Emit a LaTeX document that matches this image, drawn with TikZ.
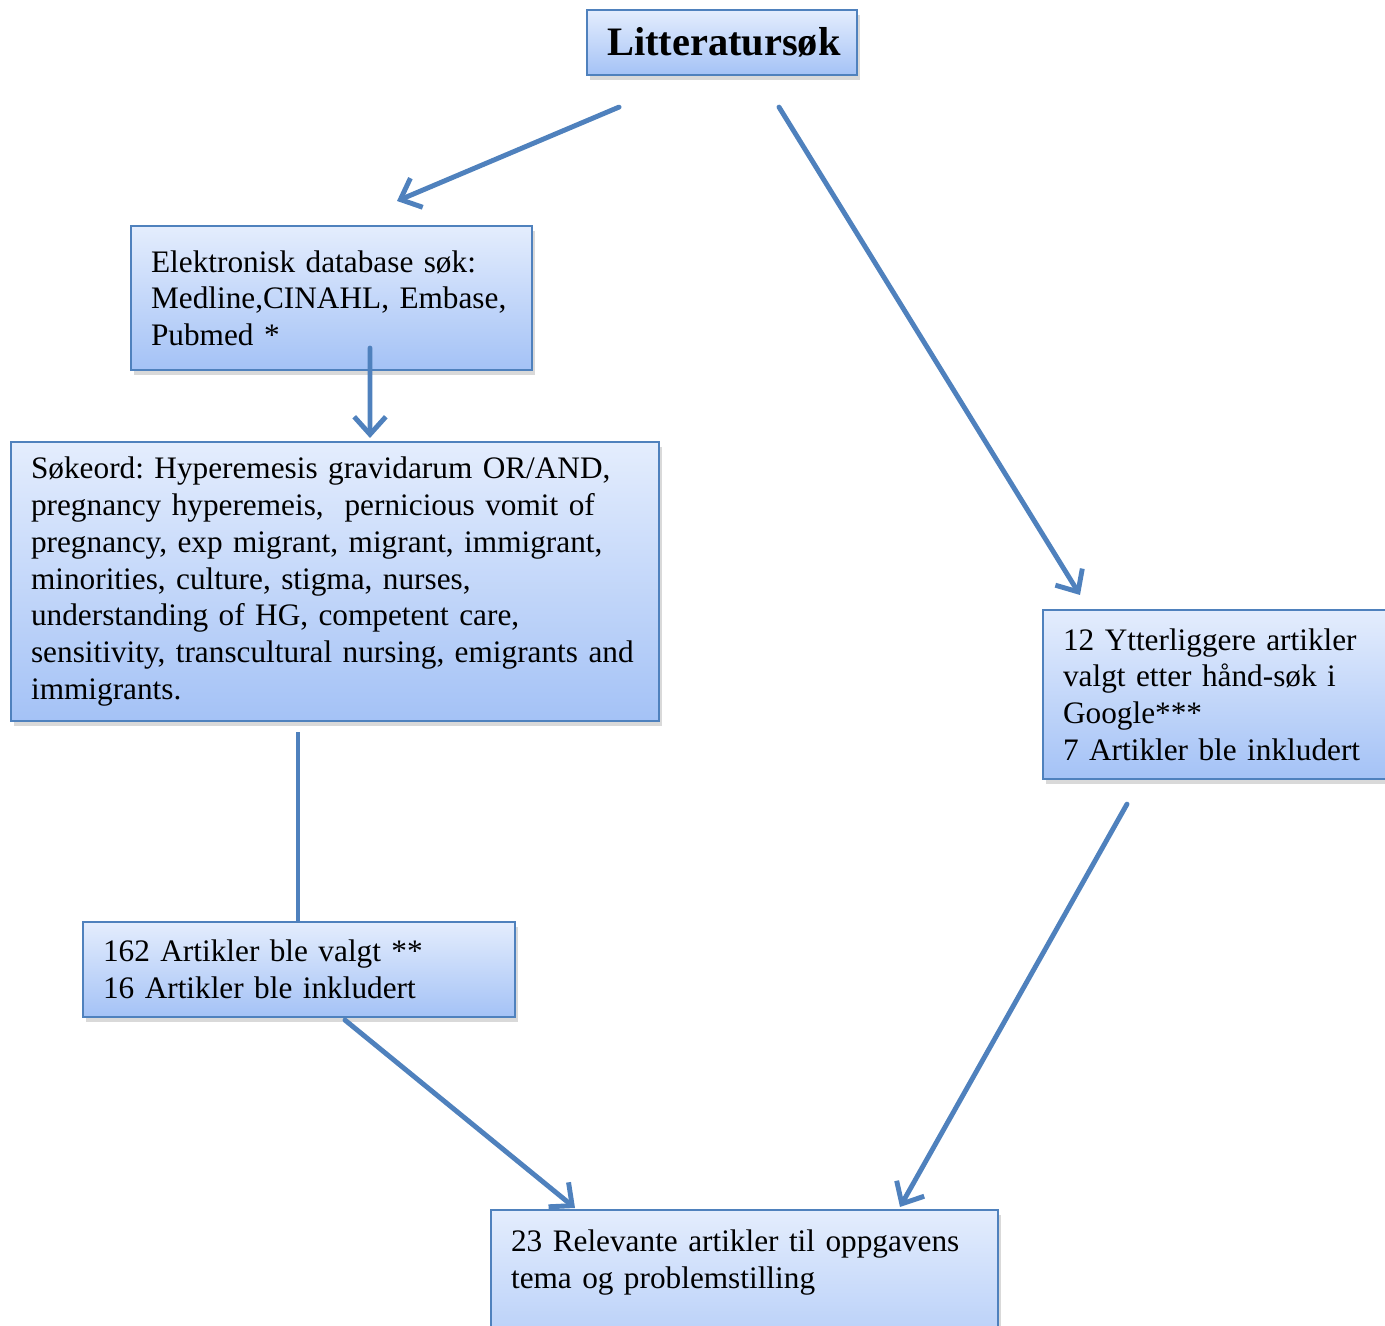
\documentclass[tikz,border=0pt]{standalone}
\usepackage{fontspec}
\setmainfont{Liberation Serif}
\usetikzlibrary{arrows.meta, calc, shadows}
\definecolor{kantblaa}{HTML}{4F81BD}
\definecolor{lysblaa}{HTML}{E4EDFD}
\definecolor{mellomblaa}{HTML}{A4C2F6}
\frenchspacing

\begin{document}
\begin{tikzpicture}[
  boks/.style={draw=kantblaa, line width=0.6pt, top color=lysblaa, bottom color=mellomblaa,
    anchor=north west, align=left, inner xsep=0.2cm, inner ysep=0pt,
    font=\fontsize{8.9}{10.45}\selectfont,
    drop shadow={shadow xshift=0.03cm, shadow yshift=-0.05cm, opacity=0.3}},
  pil/.style={-{Straight Barb[length=5pt,width=9pt]}, draw=kantblaa, line width=1.4pt, line cap=round},
  linje/.style={draw=kantblaa, line width=1.4pt}
]
\useasboundingbox (0,0) rectangle (13.85,-13.26);

% bokser
\node[boks, align=center, text width=2.3cm, minimum height=0.65cm,
      font=\fontsize{11.5}{13}\selectfont\bfseries]           (tittel)      at (5.86,-0.09)  {Litteratursøk};
\node[boks, text width=3.61cm, minimum height=1.44cm]         (elektronisk) at (1.30,-2.25)  {Elektronisk database søk:\\Medline,CINAHL, Embase,\\Pubmed *};
\node[boks, text width=6.08cm, minimum height=2.79cm]         (sokeord)     at (0.10,-4.41)  {Søkeord: Hyperemesis gravidarum OR/AND,\\pregnancy hyperemeis,\ \ pernicious vomit of\\pregnancy, exp migrant, migrant, immigrant,\\minorities, culture, stigma, nurses,\\understanding of HG, competent care,\\sensitivity, transcultural nursing, emigrants and\\immigrants.};
\node[boks, text width=3.60cm, minimum height=1.69cm]         (hand)        at (10.42,-6.09) {12 Ytterliggere artikler\\valgt etter hånd-søk i\\Google***\\7 Artikler ble inkludert};
\node[boks, text width=3.92cm, minimum height=0.95cm]         (valgt)       at (0.82,-9.21)  {162 Artikler ble valgt **\\16 Artikler ble inkludert};
\node[boks, text width=4.67cm, inner ysep=0.2cm, text depth=1.3cm] (relevante) at (4.90,-12.09) {23 Relevante artikler til oppgavens\\tema og problemstilling};

% piler
\draw[pil]   ($(tittel.south west)+(0.33,-0.31)$)      -- ($(elektronisk.north west)+(2.67,0.24)$);
\draw[pil]   ($(tittel.south west)+(1.93,-0.31)$)      -- ($(hand.north west)+(0.38,0.14)$);
\draw[pil]   ($(elektronisk.south west)+(2.40,0.23)$)  -- ($(sokeord.north west)+(3.60,0.03)$);
\draw[linje] ($(sokeord.south west)+(2.88,-0.10)$)     -- ($(valgt.north west)+(2.16,0)$);
\draw[pil]   ($(valgt.south west)+(2.63,-0.02)$)       -- ($(relevante.north west)+(0.85,0.01)$);
\draw[pil]   ($(hand.south west)+(0.85,-0.24)$)        -- ($(relevante.north west)+(4.10,0.02)$);
\end{tikzpicture}
\end{document}
